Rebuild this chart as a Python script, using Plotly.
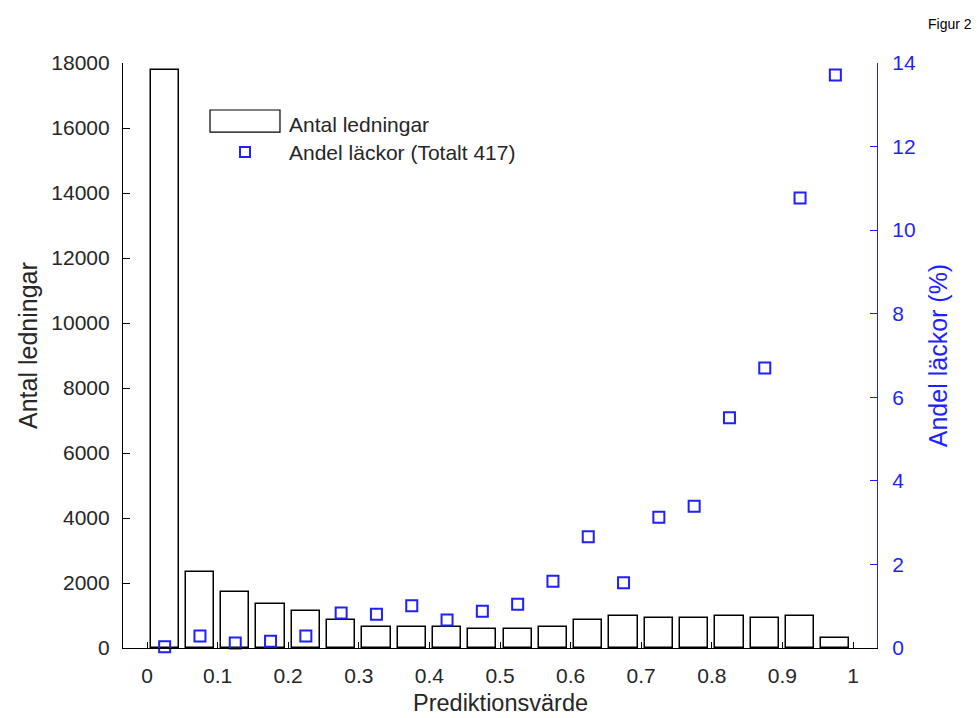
import plotly.graph_objects as go

# Histogram bins of prediction values (bin centres) and counts per bin
bin_centres = [0.025, 0.075, 0.125, 0.175, 0.225, 0.275, 0.325, 0.375, 0.425, 0.475,
               0.525, 0.575, 0.625, 0.675, 0.725, 0.775, 0.825, 0.875, 0.925, 0.975]
antal_ledningar = [17780, 2330, 1730, 1365, 1130, 860, 636, 636, 636, 585,
                   585, 636, 862, 975, 913, 913, 975, 913, 975, 318]
# Share of leaks per bin (%)
andel_lackor = [0.03, 0.29, 0.12, 0.16, 0.29, 0.84, 0.81, 1.01, 0.67, 0.88,
                1.05, 1.60, 2.66, 1.56, 3.13, 3.39, 5.51, 6.70, 10.77, 13.71]

x_ticks = [0, 0.1, 0.2, 0.3, 0.4, 0.5, 0.6, 0.7, 0.8, 0.9, 1]
x_tick_labels = ["0", "0.1", "0.2", "0.3", "0.4", "0.5", "0.6", "0.7", "0.8", "0.9", "1"]
y1_ticks = [0, 2000, 4000, 6000, 8000, 10000, 12000, 14000, 16000, 18000]
y1_tick_labels = ["0", "2000", "4000", "6000", "8000", "10000", "12000", "14000", "16000", "18000"]
y2_ticks = [0, 2, 4, 6, 8, 10, 12, 14]
y2_tick_labels = ["0", "2", "4", "6", "8", "10", "12", "14"]

FONT = "Liberation Sans, Arial, sans-serif"
GREY = "#262626"
BLUE = "#1f1fff"

fig = go.Figure()
fig.add_trace(go.Bar(
    x=bin_centres, y=antal_ledningar, width=0.04,
    marker=dict(color="white", line=dict(color="black", width=1.5)),
    name="Antal ledningar", yaxis="y", showlegend=False,
))
fig.add_trace(go.Scatter(
    x=bin_centres, y=andel_lackor, mode="markers", yaxis="y2",
    marker=dict(symbol="square-open", size=11, color=BLUE, line=dict(width=2, color=BLUE)),
    name="Andel läckor (Totalt 417)", showlegend=False, cliponaxis=False,
))

fig.update_layout(
    width=978, height=718,
    margin=dict(l=123, r=101, t=63, b=70),
    paper_bgcolor="white", plot_bgcolor="white",
    font=dict(family=FONT, color=GREY, size=21),
    xaxis=dict(
        range=[-0.034, 1.034], tickvals=x_ticks, ticktext=x_tick_labels,
        ticks="inside", ticklen=6, tickcolor="black", showgrid=False, zeroline=False,
        showline=True, linecolor="black", linewidth=1.2, ticklabelstandoff=9,
        automargin=False, tickfont=dict(size=21, color=GREY),
    ),
    yaxis=dict(
        range=[0, 18000], tickvals=y1_ticks, ticktext=y1_tick_labels,
        ticks="inside", ticklen=7, tickcolor="black", ticklabelstandoff=8,
        showgrid=False, zeroline=False, showline=True, linecolor="black", linewidth=1.2,
        automargin=False, tickfont=dict(size=21, color=GREY),
    ),
    yaxis2=dict(
        range=[0, 14], tickvals=y2_ticks, ticktext=y2_tick_labels,
        ticks="inside", ticklen=7, tickcolor=BLUE, ticklabelstandoff=10,
        overlaying="y", side="right", showgrid=False, zeroline=False,
        showline=True, linecolor=BLUE, linewidth=1.2, automargin=False,
        title=dict(text="Andel läckor (%)", font=dict(size=25, color=BLUE), standoff=14),
        tickfont=dict(size=21, color=BLUE),
    ),
    bargap=0,
)

# Axis titles for the bottom and left axes
fig.add_annotation(x=0.5, y=-0.1175, xref="paper", yref="paper", xanchor="center",
                   yanchor="bottom", text="Prediktionsvärde", showarrow=False,
                   font=dict(size=23.5, color=GREY), borderpad=0)
fig.add_annotation(x=-0.126, y=0.518, xref="paper", yref="paper", xanchor="center",
                   yanchor="middle", text="Antal ledningar", showarrow=False, textangle=-90,
                   font=dict(size=25, color=GREY))

# Legend drawn in paper coordinates: wide box for the bars, small square for the markers
fig.add_shape(type="rect", xref="paper", yref="paper",
              x0=0.1154, x1=0.2082, y0=0.882, y1=0.9197,
              line=dict(color="black", width=1.2), fillcolor="white")
fig.add_shape(type="rect", xref="paper", yref="paper",
              x0=0.1552, x1=0.1684, y0=0.8393, y1=0.8564,
              line=dict(color=BLUE, width=2), fillcolor="rgba(0,0,0,0)")
fig.add_annotation(x=0.2175, y=0.8957, xref="paper", yref="paper", xanchor="left",
                   yanchor="middle", text="Antal ledningar", showarrow=False,
                   font=dict(size=21, color=GREY))
fig.add_annotation(x=0.2175, y=0.8462, xref="paper", yref="paper", xanchor="left",
                   yanchor="middle", text="Andel läckor (Totalt 417)", showarrow=False,
                   font=dict(size=21, color=GREY))

fig.add_annotation(x=1.0, y=1.0, xref="paper", yref="paper", xanchor="right", yanchor="top",
                   xshift=97, yshift=49, text="Figur 2", showarrow=False,
                   font=dict(size=14, color="black"))

fig.write_html("out.html")
